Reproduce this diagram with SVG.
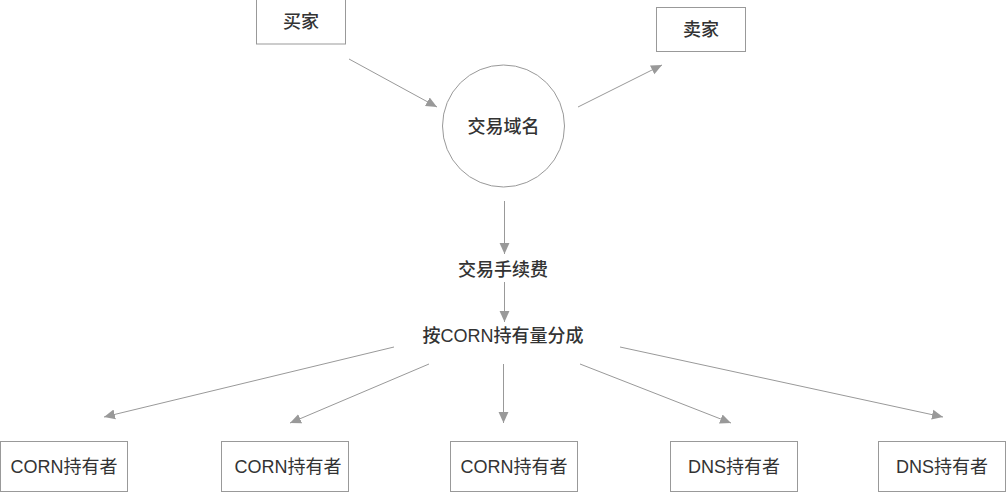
<svg xmlns="http://www.w3.org/2000/svg" width="1006" height="492" viewBox="0 0 1006 492">
<style>
.box{fill:#fff;stroke:#999;stroke-width:1}
.t{font-family:"Liberation Sans","Noto Sans CJK SC",sans-serif;font-size:18px;fill:#333;text-anchor:middle;dominant-baseline:central}
.b{font-weight:500}
.c{stroke:#999;stroke-width:1;fill:none;marker-end:url(#ah)}
</style>
<defs>
<marker id="ah" viewBox="0 0 10 10" refX="10" refY="5" markerWidth="11" markerHeight="11" markerUnits="userSpaceOnUse" orient="auto">
<path d="M0,0.5 L10,5 L0,9.5 z" fill="#999"/>
</marker>
</defs>
<rect width="1006" height="492" fill="#fff"/>
<g id="connectors">
<line class="c" x1="349" y1="59" x2="437" y2="107"/>
<line class="c" x1="578" y1="107" x2="662" y2="65"/>
<line class="c" x1="504.5" y1="201" x2="504.5" y2="254"/>
<line class="c" x1="504.5" y1="282" x2="504.5" y2="322"/>
<line class="c" x1="394" y1="347" x2="104" y2="417"/>
<line class="c" x1="429" y1="364" x2="290" y2="423"/>
<line class="c" x1="503.5" y1="364" x2="503.5" y2="423"/>
<line class="c" x1="580" y1="364" x2="731" y2="423"/>
<line class="c" x1="620" y1="347" x2="943" y2="417"/>
</g>
<g id="buyer">
<rect class="box" x="256.5" y="-0.5" width="89" height="44.5"/>
<text class="t b" x="301" y="22">买家</text>
</g>
<g id="seller">
<rect class="box" x="656.5" y="7.5" width="89" height="44"/>
<text class="t b" x="701" y="29.5">卖家</text>
</g>
<g id="trade">
<circle class="box" cx="503.5" cy="126" r="61"/>
<text class="t b" x="503.5" y="127">交易域名</text>
</g>
<g id="fee">
<text class="t b" x="503" y="270">交易手续费</text>
</g>
<g id="split">
<text class="t b" x="503" y="335.5">按CORN持有量分成</text>
</g>
<g id="holder1">
<rect class="box" x="0.5" y="441.5" width="127" height="50"/>
<text class="t" x="64" y="467">CORN持有者</text>
</g>
<g id="holder2">
<rect class="box" x="221.5" y="441.5" width="127" height="50"/>
<text class="t" x="288" y="467">CORN持有者</text>
</g>
<g id="holder3">
<rect class="box" x="450.5" y="441.5" width="127" height="50"/>
<text class="t" x="514" y="467">CORN持有者</text>
</g>
<g id="holder4">
<rect class="box" x="670.5" y="441.5" width="127" height="50"/>
<text class="t" x="734" y="467">DNS持有者</text>
</g>
<g id="holder5">
<rect class="box" x="878.5" y="441.5" width="127" height="50"/>
<text class="t" x="942" y="467">DNS持有者</text>
</g>
</svg>
